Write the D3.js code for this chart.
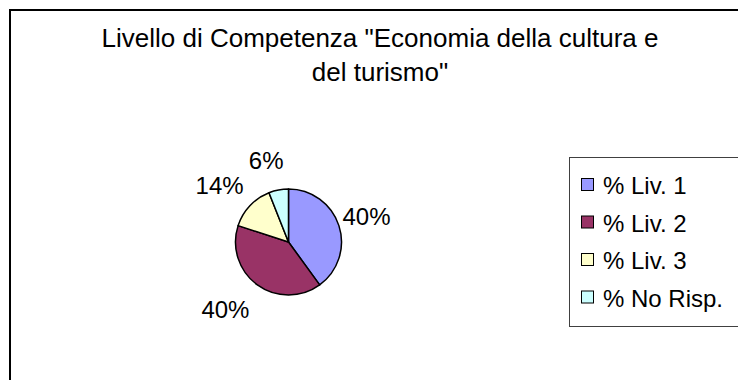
<!DOCTYPE html>
<html>
<head>
<meta charset="utf-8">
<script src="https://cdn.jsdelivr.net/npm/d3@7"></script>
<style>
  body { margin: 0; background: #fff; }
  text { font-family: Arial, "Liberation Sans", sans-serif; fill: #000; }
</style>
</head>
<body>
<svg id="chart" width="738" height="380"></svg>
<script>
// data
const categories = ["% Liv. 1", "% Liv. 2", "% Liv. 3", "% No Risp."];
const values = [40, 40, 14, 6];
const colors = ["#9999FF", "#993366", "#FFFFCC", "#CCFFFF"];
const titleLines = ["Livello di Competenza \"Economia della cultura e", "del turismo\""];

let svg = d3.select("#chart");

// chart area frame, it runs off the right and bottom of the window
svg.append("rect")
   .attr("x", 10).attr("y", 10)
   .attr("width", 741).attr("height", 400)
   .attr("fill", "#fff")
   .attr("stroke", "#000")
   .attr("stroke-width", 2);

// title, centred on the chart area
svg.selectAll(".title")
   .data(titleLines)
   .join("text")
   .attr("class", "title")
   .attr("x", 380)
   .attr("y", (d, i) => 47 + i * 34)
   .attr("text-anchor", "middle")
   .style("font-size", "26px")
   .text(d => d);

// pie
let cx = 288.5, cy = 242, r = 53;
let pie = d3.pie().sort(null).value(d => d);
let arcs = pie(values);
let arc = d3.arc().innerRadius(0).outerRadius(r);

let g = svg.append("g").attr("transform", "translate(" + cx + "," + cy + ")");

g.selectAll("path")
 .data(arcs)
 .join("path")
 .attr("d", arc)
 .attr("fill", (d, i) => colors[i])
 .attr("stroke", "#000")
 .attr("stroke-width", 1.5)
 .attr("stroke-linejoin", "round");

// percent labels outside the pie: along the bisector, then pushed sideways
// by about half a label width (less so near the top)
g.selectAll(".lbl")
 .data(arcs)
 .join("text")
 .attr("class", "lbl")
 .attr("transform", d => {
     let a = (d.startAngle + d.endAngle) / 2;
     let ux = Math.sin(a), uy = -Math.cos(a);
     let x = ux * (r - 12) + Math.sign(ux) * 39 * Math.min(1, Math.abs(ux) / 0.5);
     let y = uy * (r + 30);
     return "translate(" + x + "," + y + ")";
 })
 .attr("text-anchor", "middle")
 .attr("dy", "0.36em")
 .style("font-size", "24px")
 .text(d => d.value + "%");

// legend
let legend = svg.append("g");
legend.append("rect")
      .attr("x", 569.5).attr("y", 157.5)
      .attr("width", 200).attr("height", 169)
      .attr("fill", "#fff")
      .attr("stroke", "#404040")
      .attr("stroke-width", 1);

let rows = legend.selectAll(".row")
                 .data(categories)
                 .join("g")
                 .attr("class", "row")
                 .attr("transform", (d, i) => "translate(0," + (186 + i * 37.5) + ")");

rows.append("rect")
    .attr("x", 581.5).attr("y", -7.5)
    .attr("width", 12).attr("height", 12)
    .attr("fill", (d, i) => colors[i])
    .attr("stroke", "#000")
    .attr("stroke-width", 1);

rows.append("text")
    .attr("x", 603)
    .attr("y", 0)
    .attr("dy", "0.35em")
    .style("font-size", "24px")
    .text(d => d);
</script>
</body>
</html>
